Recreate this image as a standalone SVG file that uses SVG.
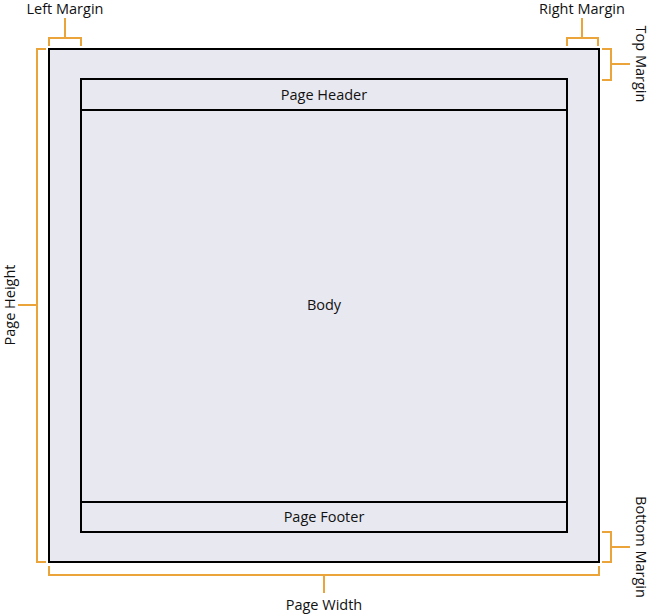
<svg xmlns="http://www.w3.org/2000/svg" width="650" height="615" viewBox="0 0 650 615">
<style>
.box{fill:#e8e8f0;stroke:#000;stroke-width:2}
.ln{stroke:#000;stroke-width:2}
.br{fill:none;stroke:#eba43a;stroke-width:2}
text{font-family:"Open Sans","Noto Sans",sans-serif;font-size:14.5px;fill:#111}
.c{text-anchor:middle}
</style>
<rect width="650" height="615" fill="#fff"/>
<g id="page">
<rect class="box" x="49" y="49" width="550" height="513"/>
</g>
<g id="body">
<rect class="box" x="81" y="79" width="486" height="453"/>
<text class="c" x="324" y="310">Body</text>
</g>
<g id="header">
<line class="ln" x1="81" y1="110" x2="567" y2="110"/>
<text class="c" x="324" y="100">Page Header</text>
</g>
<g id="footer">
<line class="ln" x1="81" y1="502" x2="567" y2="502"/>
<text class="c" x="324" y="522">Page Footer</text>
</g>
<g id="connectors">
<path class="br" d="M49,46 V38 H81 V46 M65,38 V18"/>
<path class="br" d="M567,46 V38 H598 V46 M582,38 V18"/>
<path class="br" d="M602,49 H611 V80 H602 M611,64 H630"/>
<path class="br" d="M602,532 H611 V562 H602 M611,547 H630"/>
<path class="br" d="M46,49 H37 V562 H46 M37,305 H18"/>
<path class="br" d="M49,566 V575 H599 V566 M324,575 V593"/>
</g>
<g id="labels">
<text class="c" x="65" y="14">Left Margin</text>
<text class="c" x="582" y="14">Right Margin</text>
<text class="c" transform="translate(636,64) rotate(90)">Top Margin</text>
<text class="c" transform="translate(636,547) rotate(90)">Bottom Margin</text>
<text class="c" transform="translate(15,305) rotate(-90)">Page Height</text>
<text class="c" x="324" y="610">Page Width</text>
</g>
</svg>
